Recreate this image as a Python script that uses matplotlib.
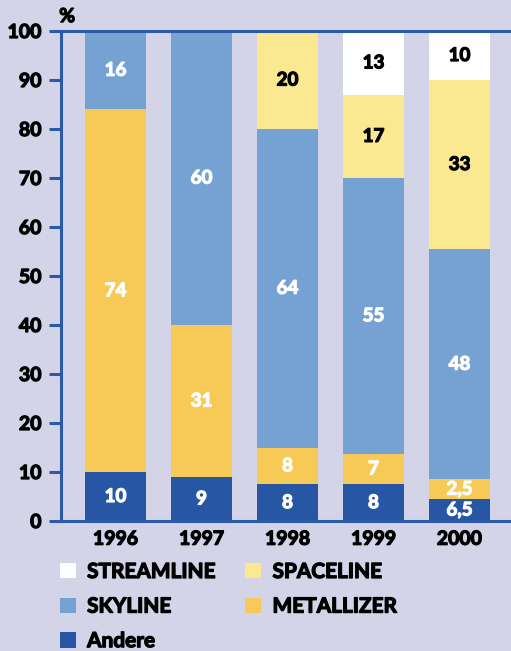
import matplotlib.pyplot as plt
import matplotlib.patheffects as pe
from matplotlib.patches import Patch

# data (heights as drawn, labels as printed)
years = ['1996', '1997', '1998', '1999', '2000']
andere = [10, 9, 7.5, 7.5, 4.5]
metallizer = [74, 31, 7.5, 6.25, 4]
skyline = [16, 60, 65, 56.25, 47]
spaceline = [0, 0, 20, 17, 34.5]
streamline = [0, 0, 0, 13, 10]

andere_lbl = ['10', '9', '8', '8', '6,5']
metallizer_lbl = ['74', '31', '8', '7', '2,5']
skyline_lbl = ['16', '60', '64', '55', '48']
spaceline_lbl = ['', '', '20', '17', '33']
streamline_lbl = ['', '', '', '13', '10']

yticks = [0, 10, 20, 30, 40, 50, 60, 70, 80, 90, 100]

BG = '#d4d4e9'
BLUE = '#2a5aa8'
plt.rcParams['font.family'] = ['Lato', 'DejaVu Sans']


def thick(c):
    # fatten the glyphs a bit, the original uses a heavy face
    return [pe.withStroke(linewidth=0.9, foreground=c)]


fig = plt.figure(figsize=(5.11, 6.51), dpi=100, facecolor=BG)
ax = fig.add_axes([61/511, 130/651, 450/511, 490/651])
ax.set_facecolor(BG)

series = [
    (andere, andere_lbl, '#2656a4', 'white', 'Andere'),
    (metallizer, metallizer_lbl, '#f7c957', 'white', 'METALLIZER'),
    (skyline, skyline_lbl, '#76a1d3', 'white', 'SKYLINE'),
    (spaceline, spaceline_lbl, '#fbe992', 'black', 'SPACELINE'),
    (streamline, streamline_lbl, '#ffffff', 'black', 'STREAMLINE'),
]

x = list(range(len(years)))
bottom = [0] * len(years)
handles = {}
for vals, lbls, col, tcol, name in series:
    ax.bar(x, vals, width=0.71, bottom=bottom, color=col, linewidth=0, zorder=2)
    for i in x:
        if lbls[i]:
            ax.text(i, bottom[i] + vals[i] / 2, lbls[i], ha='center', va='center',
                    color=tcol, fontsize=13.5, fontweight='bold', zorder=3,
                    path_effects=thick(tcol))
    bottom = [b + v for b, v in zip(bottom, vals)]
    handles[name] = Patch(facecolor=col, edgecolor='none')

ax.set_xlim(-0.634, 4.599)
ax.set_ylim(0, 100)
ax.set_yticks(yticks)
ax.set_yticklabels([str(t) for t in yticks], fontsize=14, fontweight='bold')
ax.set_xticks(x)
ax.set_xticklabels(years, fontsize=14, fontweight='bold')
for t in ax.get_xticklabels() + ax.get_yticklabels():
    t.set_path_effects(thick('black'))
ax.tick_params(axis='y', length=9, width=2.2, color=BLUE, pad=5)
ax.tick_params(axis='x', length=0, pad=7)

for s in ['left', 'top', 'bottom']:
    ax.spines[s].set_color(BLUE)
    ax.spines[s].set_linewidth(2.2)
ax.spines['right'].set_visible(False)

ax.text(-0.004, 1.012, '%', transform=ax.transAxes, fontsize=14, fontweight='bold',
        ha='left', va='bottom', path_effects=thick('black'))

order = ['STREAMLINE', 'SKYLINE', 'Andere', 'SPACELINE', 'METALLIZER']
leg = fig.legend([handles[n] for n in order], order, ncol=2, frameon=False,
                 loc='upper left', bbox_to_anchor=(60/511, 1 - 562/651),
                 prop={'size': 15, 'weight': 'bold'}, borderpad=0, borderaxespad=0,
                 handlelength=0.75, handleheight=0.75, handletextpad=0.55,
                 labelspacing=0.7, columnspacing=1.45)
for t in leg.get_texts():
    t.set_path_effects(thick('black'))

fig.savefig('out.png', dpi=100, facecolor=BG)
